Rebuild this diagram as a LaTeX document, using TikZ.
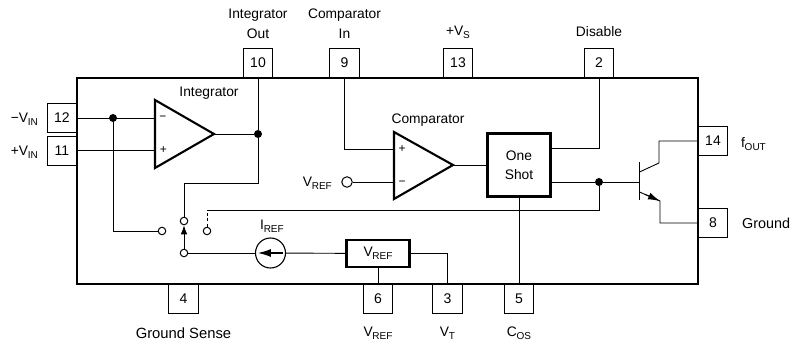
\documentclass[tikz,border=0pt]{standalone}
\usepackage{fontspec}
\setmainfont{Liberation Sans}
\usetikzlibrary{arrows.meta,calc}
\newcommand{\lbl}[2]{#1\kern-0.3pt\raisebox{-3pt}{\fontsize{10}{10}\selectfont #2}}
\tikzset{
  x=1pt,y=-1pt,
  wire/.style={line width=0.9pt,black},
  thick box/.style={draw=black,line width=2.1pt},
  pinbox/.style={draw=black,line width=1pt,fill=white,minimum width=29.5pt,minimum height=29pt,inner sep=0pt,font=\fontsize{14}{15}\selectfont},
  txt/.style={inner sep=0pt,font=\fontsize{13.8}{15}\selectfont,text=black},
  jdot/.style={circle,fill=black,inner sep=0pt,minimum size=8pt},
  term/.style={circle,draw=black,fill=white,line width=1pt,inner sep=0pt,minimum size=7.5pt},
}
\begin{document}
\begin{tikzpicture}
\useasboundingbox (0,0) rectangle (790,342);
\node[pinbox] (p10) at (258,63) {10};
\node[pinbox] (p9) at (344.5,63) {9};
\node[pinbox] (p13) at (458,63) {13};
\node[pinbox] (p2) at (599,63) {2};
\node[pinbox] (p12) at (62,118) {12};
\node[pinbox] (p11) at (62,151) {11};
\node[pinbox] (p14) at (713,141) {14};
\node[pinbox] (p8) at (713,223) {8};
\node[pinbox] (p4) at (183.5,299) {4};
\node[pinbox] (p6) at (378,299) {6};
\node[pinbox] (p3) at (447.5,299) {3};
\node[pinbox] (p5) at (519,299) {5};
\node[draw=black,line width=2pt,minimum width=621pt,minimum height=206pt,inner sep=0pt] (body) at (387.5,181) {};
\coordinate (in12) at (77,118);
\coordinate (in11) at (77,150);
\coordinate (a1m) at (155,118);
\coordinate (a1p) at (155,150);
\coordinate (a1o) at (214,134);
\coordinate (a2p) at (394,149);
\coordinate (a2m) at (394,182);
\coordinate (a2o) at (453,165);
\draw[thick box,line join=miter] (155,100) -- (a1o) -- (155,168) -- cycle;
\draw[thick box,line join=miter] (394,132) -- (a2o) -- (394,199) -- cycle;
\node[txt,font=\fontsize{12}{12}\selectfont] at (163,118) {\textminus};
\node[txt,font=\fontsize{12}{12}\selectfont] at (163.5,150.5) {+};
\node[txt,font=\fontsize{12}{12}\selectfont] at (402,149) {+};
\node[txt,font=\fontsize{12}{12}\selectfont] at (402,183) {\textminus};
\node[thick box,minimum width=63pt,minimum height=63pt,inner sep=0pt] (os) at (519,165) {};
\node[txt,align=center] at (519,165) {One\\[4pt]Shot};
\node[thick box,minimum width=63pt,minimum height=27pt,inner sep=0pt] (vr) at (378,253.5) {};
\node[txt] at (378,253) {\lbl{V}{REF}};
\node[jdot] (d1) at (113,118) {};
\node[jdot] (d2) at (258,134) {};
\node[jdot] (d3) at (599,182) {};
\node[term] (sw1) at (162,231) {};
\node[term] (sw2) at (184,221) {};
\node[term] (sw3) at (207,231) {};
\node[term] (sw4) at (184,253) {};
\node[term,minimum size=10.5pt] (vt) at (347,182) {};
\node[circle,draw=black,line width=1.1pt,minimum size=30pt,inner sep=0pt] (iref) at (270.5,253) {};
\draw[wire] (in12) -- (a1m);
\draw[wire] (in11) -- (a1p);
\draw[wire] (d1) |- (sw1);
\draw[wire] (a1o) -- (d2);
\draw[wire] (p10.south) -- (d2);
\draw[wire] (d2) -- (258,183) -- (184,183) -- (sw2);
\draw[wire] (sw4) -- (iref);
\draw[wire] (iref) -- (vr);
\draw[wire] (vr.east) -- (447.5,253.5) -- (447.5,284);
\draw[wire] (vr.south) -- (378,284);
\draw[wire] (os.south) -- (519,284);
\draw[wire] (p9.south) -- (344.5,149) -- (a2p);
\draw[wire] (vt) -- (a2m);
\draw[wire] (a2o) -- (os.west);
\draw[wire] (550,148) -- (599,148) -- (p2.south);
\draw[wire] (550,182) -- (d3);
\draw[wire] (d3) -- (639.5,182);
\draw[wire,dash pattern=on 3pt off 2.5pt] (sw3) -- (207,210);
\draw[wire] (207,210) -- (599,210) -- (d3);
\draw[wire,-{Latex[length=9pt,width=6.5pt]}] (sw4) -- (sw2);
\draw[line width=1.2pt,black,-{Latex[length=13pt,width=8pt]}] ($(iref.east)+(-3,0)$) -- ($(iref.west)+(3,0)$);
\draw[line width=1.2pt,black] (639.5,162) -- (639.5,200);
\draw[wire] (639.5,172) -- (659,163) -- (659,141) -- (698,141);
\draw[wire] (639.5,192) -- (660,201) -- (660,223) -- (698,223);
\draw[wire,-{Latex[length=12pt,width=7pt]}] (645,194.3) -- (660,201);
\node[txt] at (209,93) {Integrator};
\node[txt] at (428,120) {Comparator};
\node[txt,align=center] at (258,24) {Integrator\\[5pt]Out};
\node[txt,align=center] at (344.5,24) {Comparator\\[5pt]In};
\node[txt] at (458,32) {+\lbl{V}{S}};
\node[txt] at (599,32) {Disable};
\node[txt,anchor=east] at (38,119) {\textminus\lbl{V}{IN}};
\node[txt,anchor=east] at (38,152) {+\lbl{V}{IN}};
\node[txt,anchor=west] at (741,144) {\lbl{f}{OUT}};
\node[txt,anchor=west,font=\fontsize{14.4}{15}\selectfont] at (742,223) {Ground};
\node[txt] at (272,226) {\lbl{I}{REF}};
\node[txt,anchor=east] at (332,183) {\lbl{V}{REF}};
\node[txt,font=\fontsize{14.8}{15}\selectfont] at (183.5,333) {Ground Sense};
\node[txt] at (378,333) {\lbl{V}{REF}};
\node[txt] at (447.5,333) {\lbl{V}{T}};
\node[txt] at (519,333) {\lbl{C}{OS}};
\end{tikzpicture}
\end{document}
